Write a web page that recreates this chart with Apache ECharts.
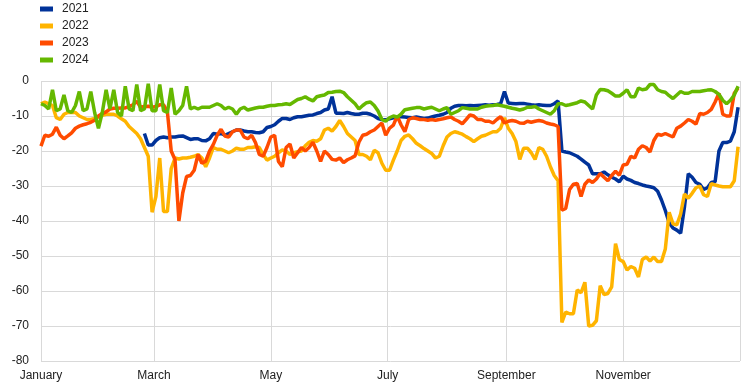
<!DOCTYPE html>
<html>
<head>
<meta charset="utf-8">
<script src="https://cdn.jsdelivr.net/npm/echarts@6/dist/echarts.min.js"></script>
<style>
html,body{margin:0;padding:0;background:#fff;}
#chart{width:744px;height:390px;}
</style>
</head>
<body>
<div id="chart"></div>
<script>
// x axis: day of year (0..365); ticks every other month
const tickDays = [0, 59, 120, 181, 243, 304];
const tickNames = ['January', 'March', 'May', 'July', 'September', 'November'];
const gridDays = [0, 59, 120, 181, 243, 304, 365];
const yTicks = [0, -10, -20, -30, -40, -50, -60, -70, -80];

// sampled every 2 days
const step = 2;
const start2021 = 54;
const start2022 = 0;
const start2023 = 0;
const start2024 = 0;

const vals2021 = [
  -15,-18.3,-18.3,
  -17,-16.2,-16,-16.2,-16,-16,-15.8,-15.7,-16.2,-16.7,
  -16.5,-16.5,-17,-17.1,-16.5,-15,-15.2,-15,-15.5,-15,
  -14.5,-14,-14,-14.3,-14.5,-14.5,-14.7,-14.8,-14.5,-13.3,
  -13,-12.5,-11.5,-10.7,-10.7,-11,-10.5,-10.2,-10.2,-10,
  -9.8,-9.7,-9.3,-9,-8.3,-8,-4.5,-9.2,-9.2,-9.3,
  -9,-9.3,-9.5,-9.5,-9.2,-9.2,-9.5,-10,-10.7,-11,
  -11.1,-10.8,-10.5,-10.2,-10.2,-10.3,-10.4,-10.5,-10.3,-10.5,
  -10.7,-10.6,-10.3,-10,-9.8,-9.5,-9,-7.8,-7.2,-7,
  -7,-7.1,-7,-7.1,-7,-6.9,-6.8,-6.9,-6.8,-6.7,
  -6.5,-3,-6.3,-6.4,-6.5,-6.4,-6.4,-6.6,-6.8,-6.9,
  -6.8,-6.9,-7,-7,-6.5,-5.7,-20,-20.3,-20.5,-21,
  -21.5,-22.3,-23.2,-24,-26.5,-26.5,-26.5,-26,-26.8,-27.5,
  -28,-28.8,-27.2,-28,-28.4,-29,-29.3,-29.7,-30,-30.2,
  -30.5,-31.5,-34,-37,-40.5,-42,-42.6,-43.5,-36,-26.5,
  -27.5,-29,-29.5,-31,-30.5,-29,-28.8,-20,-17.6,-17.6,
  -17.2,-14.5,-7.5
];

const vals2022 = [
  -6.5,-6,-6.5,-7,-10.5,-11,-9.5,-9,-9,-9,
  -10,-10.5,-11,-11,-10.7,-10.2,-9.8,-9.5,-9.5,-9.5,
  -10,-10.8,-11.5,-13,-14,-15,-16.5,-19,-21.5,-37.5,
  -33,-22,-37.3,-37.3,-25,-22,-22.3,-22,-22,-21.8,
  -21.5,-21,-22,-24.5,-22,-19,-19.5,-19.5,-20,-20.5,
  -20,-19.2,-19.5,-19.5,-19,-19,-18.8,-19,-21,-22.6,
  -22,-21.5,-20.5,-19.7,-20,-21,-20.5,-20.2,-20,-18.5,
  -17.5,-17,-17.2,-16.5,-14,-13.5,-14.3,-13,-11.3,-13,
  -15,-16,-17,-21,-21,-21.5,-22.5,-19.8,-20.5,-23.5,
  -25.5,-25.5,-22.6,-20,-17,-15.8,-15.4,-16.5,-17.8,-18.5,
  -19.3,-20,-20.7,-22,-21.5,-18.5,-16,-15,-14.5,-14.8,
  -15.2,-15.9,-16.5,-17.3,-16.5,-15.8,-15.5,-15,-14.5,-14.5,
  -13.5,-10.5,-13.5,-15,-17.3,-22.4,-19.2,-19.2,-20.5,-22.4,
  -19,-19.5,-21.5,-24.5,-27,-28.5,-69,-66,-66.5,-66.5,
  -59.7,-60.5,-57.5,-70,-69.8,-68.5,-58.5,-61,-60.7,-58.8,
  -46.5,-51,-51.6,-54,-53,-53.5,-56,-51,-50.3,-51.4,
  -50.3,-51.6,-51.6,-48,-37.5,-40.8,-41.1,-38,-32.3,-33.5,
  -32.1,-30.5,-30,-32.5,-33,-29.3,-29.7,-30,-30.2,-30.2,
  -30.2,-28.5,-18.8
];

const vals2023 = [
  -18.6,-15.5,-15.8,-15.2,-13.2,-15.5,-16.5,-15.7,-14.8,-13.5,
  -12.9,-12.5,-12.2,-11.8,-11.2,-10,-9.3,-8.8,-8,-7.8,
  -7.8,-7.7,-7.7,-7.3,-6.8,-5.8,-7.5,-7.3,-7.2,-7.5,
  -7.3,-6.8,-6.8,-8.8,-20,-22.5,-40,-32,-27.3,-27,
  -25.5,-21,-23.5,-22.9,-20,-18.1,-15.5,-13.8,-15.7,-16,
  -14.5,-14,-14,-16,-16.5,-15.5,-17.6,-21,-21.5,-19,
  -16,-15.5,-23,-24.5,-19,-18,-22,-20.5,-19,-20,
  -19,-17.5,-20,-23,-20,-21,-22.4,-22.6,-22,-23.3,
  -22.5,-22,-21.4,-17.5,-15.5,-15.2,-14.5,-14,-13,-12,
  -15.5,-13.5,-12.6,-10,-12.5,-14.5,-11,-10.5,-10.7,-11,
  -11,-11.2,-11,-11.2,-11,-10.8,-10.5,-10.3,-11,-11.5,
  -12.2,-11,-9.7,-10,-11,-11,-11.5,-11.5,-12,-11,
  -10.2,-12,-11.5,-11.3,-11.5,-12,-12.1,-11.5,-11.8,-11.5,
  -11.3,-11.5,-12,-12.3,-12.5,-13,-36.9,-36.4,-31,-29.5,
  -29.3,-33,-29.5,-28.3,-29,-28,-26.4,-27.5,-28.5,-27,
  -25.8,-26.9,-24,-23.8,-21.5,-22,-19.5,-18.5,-19,-20.3,
  -17,-15.2,-15.5,-15,-15.5,-16,-13.5,-12.9,-12,-11,
  -11.5,-12.3,-9.3,-9.5,-9,-8.1,-6,-3.5,-9.5,-10,
  -10,-3.5,-2
];

const vals2024 = [
  -6.5,-7,-8,-2.5,-8.5,-8,-4,-8.5,-9,-7,
  -3,-8.5,-8,-3,-9,-13.5,-9,-2.5,-8,-2.5,
  -9,-10,-1.5,-8,-8.5,-1,-8.5,-8,-0.8,-8.5,
  -8.5,-1,-8.5,-9,-2,-9.5,-8.5,-7,-1.5,-8,
  -7.5,-8,-7.5,-7.5,-7.5,-7,-6.5,-7,-8,-7.5,
  -8,-9.5,-8,-7.5,-8.3,-8,-7.7,-7.5,-7.5,-7.2,
  -7,-7,-6.8,-6.7,-6.5,-6.7,-6,-5.3,-5,-4.5,
  -5.2,-5.7,-4.5,-4.2,-4,-3.3,-3.2,-3,-2.9,-3.3,
  -4.5,-5.5,-6.5,-8,-7,-6.2,-6,-7,-8.6,-11,
  -11.5,-10.5,-10,-10.3,-9.5,-8.2,-8,-7.8,-7.6,-7.6,
  -8,-7.7,-7.5,-8,-8.5,-8,-7.6,-9.5,-9,-8.5,
  -7.6,-7.8,-8,-8,-8,-7.5,-7.2,-7.1,-7,-6.8,
  -7,-7.2,-7.5,-7.8,-8,-8.3,-8,-7.5,-7.5,-7.3,
  -8,-8.5,-9,-9.5,-8.5,-6.5,-6.5,-7,-6.8,-6.5,
  -6.2,-5.7,-6,-7,-8,-4,-2.4,-2.5,-2.8,-3.5,
  -4.3,-4.3,-3.5,-2.5,-4.5,-4.5,-2,-2.5,-2.3,-1,
  -1,-2.5,-3,-3.2,-4.2,-5,-4,-3,-3.5,-3.5,
  -3,-3,-3,-2.8,-2.6,-2.5,-3,-3.8,-5.5,-6.5,
  -5.5,-4,-1.5
];

const seriesNames = ['2021', '2022', '2023', '2024'];
const seriesColors = ['#003299', '#FFB400', '#FF4B00', '#65B800'];

function build(start, vals) {
  return vals.map((v, k) => [start + k * step, v]);
}

const categories = [];
for (let d = 0; d <= 365; d++) categories.push(String(d));

const FONT = "'Liberation Sans', Arial, sans-serif";
const chart = echarts.init(document.getElementById('chart'), null, { renderer: 'canvas' });

const datasets = [
  build(start2021, vals2021),
  build(start2022, vals2022),
  build(start2023, vals2023),
  build(start2024, vals2024)
];

chart.setOption({
  animation: false,
  backgroundColor: '#fff',
  textStyle: { fontFamily: FONT },
  legend: {
    orient: 'vertical',
    left: 40,
    top: 3,
    padding: 0,
    itemWidth: 13,
    itemHeight: 5,
    itemGap: 5,
    icon: 'rect',
    textStyle: { fontSize: 12, color: '#222', fontFamily: FONT, padding: [0, 0, 0, 4] },
    data: seriesNames
  },
  grid: { left: 41, right: 4, top: 81, bottom: 29, containLabel: false },
  xAxis: {
    type: 'category',
    data: categories,
    boundaryGap: false,
    axisLine: { show: false },
    axisTick: { show: false },
    axisLabel: {
      interval: (idx) => tickDays.indexOf(idx) >= 0,
      formatter: (val, idx) => {
        const k = tickDays.indexOf(Number(val));
        return k >= 0 ? tickNames[k] : '';
      },
      color: '#222',
      fontSize: 12,
      fontFamily: FONT,
      margin: 9
    },
    splitLine: {
      show: true,
      interval: (idx) => gridDays.indexOf(idx) >= 0,
      lineStyle: { color: '#d9d9d9', width: 1 }
    }
  },
  yAxis: {
    type: 'value',
    min: yTicks[yTicks.length - 1],
    max: yTicks[0],
    interval: 10,
    axisLine: { show: false },
    axisTick: { show: false },
    axisLabel: { color: '#222', fontSize: 12, fontFamily: FONT, margin: 12 },
    splitLine: { show: true, lineStyle: { color: '#d9d9d9', width: 1 } }
  },
  series: seriesNames.map((name, i) => ({
    name: name,
    type: 'line',
    data: datasets[i],
    showSymbol: false,
    symbol: 'none',
    connectNulls: true,
    lineStyle: { color: seriesColors[i], width: 3.5 },
    itemStyle: { color: seriesColors[i] },
    z: 2 + i
  }))
});
</script>
</body>
</html>
